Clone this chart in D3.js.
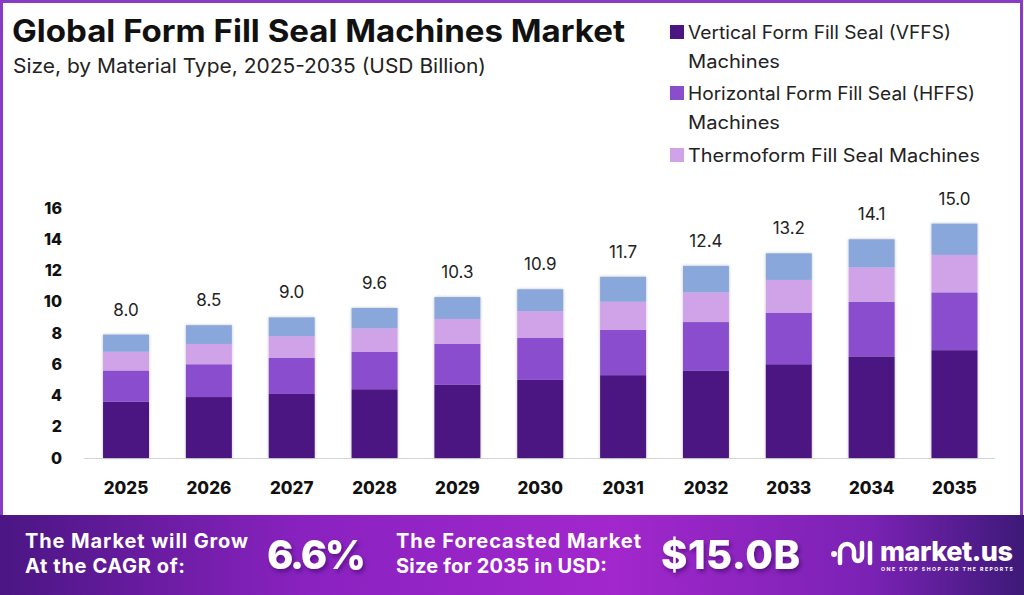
<!DOCTYPE html>
<html>
<head>
<meta charset="utf-8">
<script src="https://cdn.jsdelivr.net/npm/d3@7.9.0/dist/d3.min.js"></script>
<style>
  html, body { margin: 0; padding: 0; background: #fff; }
  svg { display: block; font-family: 'Inter', 'Open Sans', sans-serif; }
</style>
</head>
<body>
<svg id="chart" width="1024" height="595"></svg>
<script>
// data
const years = ['2025', '2026', '2027', '2028', '2029', '2030', '2031', '2032', '2033', '2034', '2035'];
const totals = [8.0, 8.5, 9.0, 9.6, 10.3, 10.9, 11.7, 12.4, 13.2, 14.1, 15.0];
const vffs = [3.6, 3.9, 4.1, 4.4, 4.7, 5.0, 5.3, 5.6, 6.0, 6.5, 6.9];
const hffs = [2.0, 2.1, 2.3, 2.4, 2.6, 2.7, 2.9, 3.1, 3.3, 3.5, 3.7];
const thermo = [1.2, 1.3, 1.4, 1.5, 1.6, 1.7, 1.8, 1.9, 2.1, 2.2, 2.4];
const others = [1.1, 1.2, 1.2, 1.3, 1.4, 1.4, 1.6, 1.7, 1.7, 1.8, 2.0];
const yTicks = [0, 2, 4, 6, 8, 10, 12, 14, 16];

const seriesKeys = ['vffs', 'hffs', 'thermo', 'others'];
const colors = ['#4b1681', '#8a4ecd', '#d0a3e8', '#8aa7dc'];
const legendLabels = [
  ['Vertical Form Fill Seal (VFFS)', 'Machines'],
  ['Horizontal Form Fill Seal (HFFS)', 'Machines'],
  ['Thermoform Fill Seal Machines']
];
// widths the legend lines take in the picture
const legendWidths = [[263, 92], [287, 92], [292]];

const rows = years.map((y, i) => ({
  year: y, vffs: vffs[i], hffs: hffs[i], thermo: thermo[i], others: others[i]
}));

const svg = d3.select('#chart');
const defs = svg.append('defs');

// soft shadow for bars
const shadow = defs.append('filter').attr('id', 'shadow')
  .attr('x', '-20%').attr('y', '-10%').attr('width', '140%').attr('height', '120%');
shadow.append('feDropShadow').attr('dx', 0).attr('dy', 0).attr('stdDeviation', 1.5)
  .attr('flood-color', '#000').attr('flood-opacity', 0.25);

const grad = defs.append('linearGradient').attr('id', 'banner');
grad.append('stop').attr('offset', '0%').attr('stop-color', '#4a1683');
grad.append('stop').attr('offset', '30%').attr('stop-color', '#8a22c0');
grad.append('stop').attr('offset', '60%').attr('stop-color', '#a227cc');
grad.append('stop').attr('offset', '85%').attr('stop-color', '#7a22b4');
grad.append('stop').attr('offset', '100%').attr('stop-color', '#3d1978');

const textShadow = defs.append('filter').attr('id', 'tshadow')
  .attr('x', '-10%').attr('y', '-20%').attr('width', '130%').attr('height', '150%');
textShadow.append('feDropShadow').attr('dx', 2).attr('dy', 3).attr('stdDeviation', 2)
  .attr('flood-color', '#2a0050').attr('flood-opacity', 0.5);

// frame
svg.append('rect').attr('x', 1.5).attr('y', 1.5).attr('width', 1020).attr('height', 600)
  .attr('fill', '#fff').attr('stroke', '#8a3bc4').attr('stroke-width', 3);

// title
svg.append('text').attr('x', 12).attr('y', 42)
  .attr('font-size', 31).attr('font-weight', 700).attr('fill', '#111')
  .attr('textLength', 613).attr('lengthAdjust', 'spacingAndGlyphs')
  .text('Global Form Fill Seal Machines Market');
svg.append('text').attr('x', 13).attr('y', 73)
  .attr('font-size', 20).attr('fill', '#222')
  .attr('textLength', 473).attr('lengthAdjust', 'spacingAndGlyphs')
  .text('Size, by Material Type, 2025-2035 (USD Billion)');

// legend
const legend = svg.append('g').attr('transform', 'translate(670,0)');
const legendRows = [32, 93, 155];
legendLabels.forEach((lines, i) => {
  const g = legend.append('g').attr('transform', `translate(0,${legendRows[i]})`);
  g.append('rect').attr('x', 0).attr('y', -7).attr('width', 14).attr('height', 14)
    .attr('fill', colors[i]);
  lines.forEach((t, j) => {
    g.append('text').attr('x', 18).attr('y', j * 29 + 6.5)
      .attr('font-size', 18).attr('fill', '#222')
      .attr('textLength', legendWidths[i][j]).attr('lengthAdjust', 'spacingAndGlyphs')
      .text(t);
  });
});

// scales
const x = d3.scaleBand().domain(years).range([84.6, 995.9])
  .paddingInner(0.445).paddingOuter(0.2225);
const y = d3.scaleLinear().domain([0, 16]).range([458, 208]);

const stack = d3.stack().keys(seriesKeys);
const stacked = stack(rows);

// y axis
const yAxis = svg.append('g').attr('transform', 'translate(62,0)')
  .call(d3.axisLeft(y).tickValues(yTicks).tickSize(0).tickPadding(0));
yAxis.select('.domain').remove();
yAxis.selectAll('text').attr('font-size', 16).attr('font-weight', 800)
  .attr('fill', '#111').attr('font-family', 'Inter, sans-serif');

// baseline
svg.append('line').attr('x1', 84).attr('x2', 995)
  .attr('y1', y(0) + 0.5).attr('y2', y(0) + 0.5)
  .attr('stroke', '#d4d4d4').attr('stroke-width', 1);

// bars
svg.append('g').attr('filter', 'url(#shadow)')
  .selectAll('g').data(stacked).join('g')
  .attr('fill', (d, i) => colors[i])
  .selectAll('rect').data(d => d).join('rect')
  .attr('x', d => x(d.data.year))
  .attr('width', x.bandwidth())
  .attr('y', d => y(d[1]))
  .attr('height', d => y(d[0]) - y(d[1]));

// total labels
svg.append('g').selectAll('text').data(years).join('text')
  .attr('x', d => x(d) + x.bandwidth() / 2)
  .attr('y', (d, i) => y(d3.sum(seriesKeys, k => rows[i][k])) - 19)
  .attr('text-anchor', 'middle').attr('font-size', 17).attr('fill', '#222')
  .text((d, i) => totals[i].toFixed(1));

// x axis
const xAxis = svg.append('g').attr('transform', `translate(0,${y(0)})`)
  .call(d3.axisBottom(x).tickSize(0).tickPadding(24));
xAxis.select('.domain').remove();
xAxis.selectAll('text').attr('font-size', 17).attr('font-weight', 800)
  .attr('fill', '#111').attr('font-family', 'Inter, sans-serif');

// bottom banner
const banner = svg.append('g').attr('transform', 'translate(0,515)');
banner.append('rect').attr('width', 1024).attr('height', 80).attr('fill', 'url(#banner)');
const bt = banner.append('g').attr('fill', '#fff').attr('font-weight', 700).attr('font-size', 20)
  .attr('lengthAdjust', 'spacingAndGlyphs');
bt.append('text').attr('x', 25).attr('y', 33).attr('textLength', 223).text('The Market will Grow');
bt.append('text').attr('x', 25).attr('y', 58).attr('textLength', 160).text('At the CAGR of:');
bt.append('text').attr('x', 396).attr('y', 33).attr('textLength', 245).text('The Forecasted Market');
bt.append('text').attr('x', 396).attr('y', 58).attr('textLength', 211).text('Size for 2035 in USD:');

banner.append('text').attr('x', 267).attr('y', 54).attr('fill', '#fff')
  .attr('font-size', 40).attr('font-weight', 800).attr('filter', 'url(#tshadow)')
  .attr('textLength', 99).text('6.6%');
banner.append('text').attr('x', 661).attr('y', 54).attr('fill', '#fff')
  .attr('font-size', 40).attr('font-weight', 800).attr('filter', 'url(#tshadow)')
  .attr('textLength', 139).text('$15.0B');

// logo
const logo = banner.append('g').attr('transform', 'translate(830,22)');
logo.append('circle').attr('cx', 4).attr('cy', 17).attr('r', 3).attr('fill', '#fff');
logo.append('path')
  .attr('d', 'M10,26 L10,14 A7,7 0 0 1 24,14 L24,20 A4,4 0 0 0 32,20 L32,6')
  .attr('fill', 'none').attr('stroke', '#fff').attr('stroke-width', 4.5).attr('stroke-linecap', 'round');
logo.append('line').attr('x1', 40).attr('x2', 40).attr('y1', 6).attr('y2', 26)
  .attr('stroke', '#fff').attr('stroke-width', 4.5).attr('stroke-linecap', 'round');
logo.append('text').attr('x', 50).attr('y', 24).attr('fill', '#fff')
  .attr('font-size', 27).attr('font-weight', 800).attr('textLength', 133).text('market.us');
logo.append('text').attr('x', 51).attr('y', 34).attr('fill', '#fff')
  .attr('font-size', 5.2).attr('font-weight', 700).attr('textLength', 132)
  .text('ONE STOP SHOP FOR THE REPORTS');
</script>
</body>
</html>
